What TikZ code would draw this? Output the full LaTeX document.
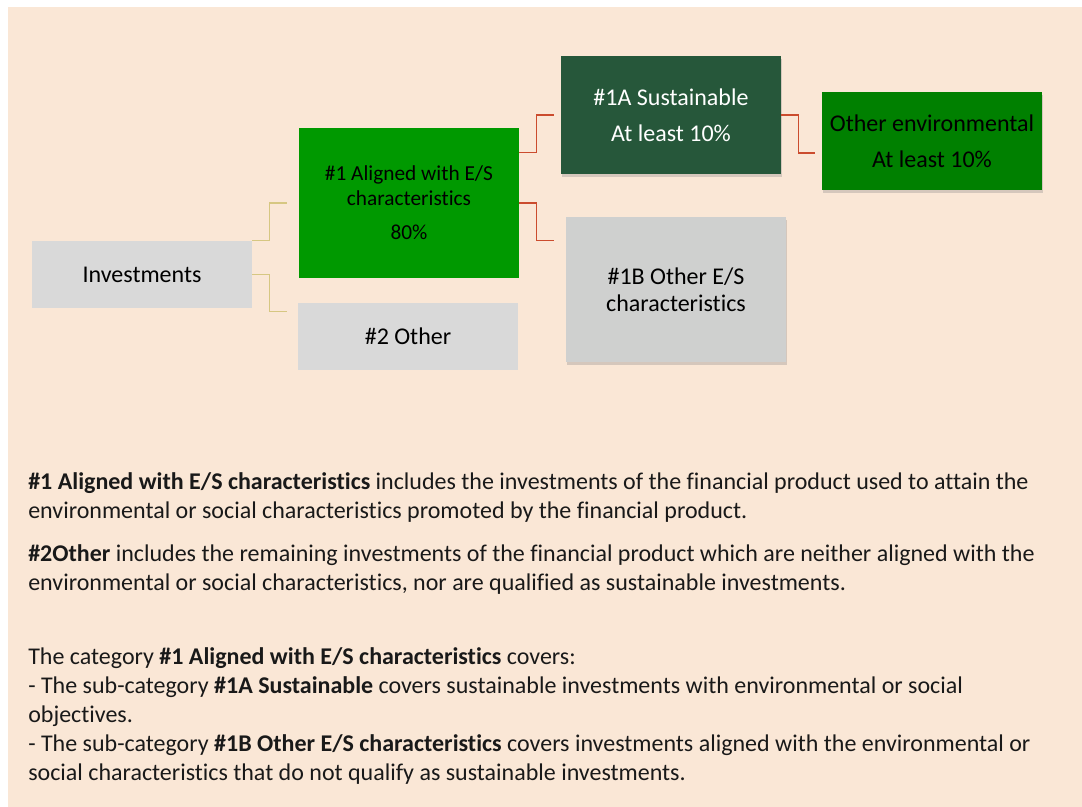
\documentclass[tikz,border=0pt]{standalone}
\usepackage{fontspec}
\setmainfont{Carlito}[Ligatures=NoCommon]
\usetikzlibrary{calc,shadows}

\definecolor{bgsand}{RGB}{250,231,214}
\definecolor{boxgrey}{RGB}{217,217,217}
\definecolor{subgrey}{RGB}{207,208,207}
\definecolor{alignedgreen}{RGB}{0,153,0}
\definecolor{sustgreen}{RGB}{38,87,58}
\definecolor{envgreen}{RGB}{0,128,0}
\definecolor{linktan}{RGB}{214,199,130}
\definecolor{linkred}{RGB}{203,76,46}

\begin{document}
\begin{tikzpicture}[x=0.75pt,y=-0.75pt,
    box/.style={rectangle, inner sep=0pt, minimum width=165pt, align=center,
        font=\fontsize{18}{20.25}\selectfont},
    shadebox/.style={box, drop shadow={opacity=0.3, shadow xshift=0.75pt, shadow yshift=-2.25pt}},
    tanline/.style={draw=linktan, line width=1pt},
    redline/.style={draw=linkred, line width=1pt},
    para/.style={anchor=north west, inner sep=0pt, align=left, text=black!90,
        font=\fontsize{18}{21.75}\selectfont}]
    \useasboundingbox (0,0) rectangle (1082,807);
    \fill[bgsand] (8,7) rectangle (1082,807);

    \node[box, fill=boxgrey, minimum height=50.25pt] (inv) at (142,274.5) {Investments};
    \node[box, fill=alignedgreen, minimum height=112.5pt, font=\fontsize{16}{18.75}\selectfont] (al) at (409,203)
        {\#1 Aligned with E/S\\ characteristics\\[6.75pt] 80\%};
    \node[box, fill=boxgrey, minimum height=50.25pt] (oth) at (408,336.5) {\#2 Other};
    \node[shadebox, fill=sustgreen, text=white, minimum height=88.5pt] (sus) at (671,115)
        {\#1A Sustainable\\[6.75pt] At least 10\%};
    \node[shadebox, fill=envgreen, minimum height=73.5pt] (env) at (932,141)
        {Other environmental\\[6.75pt] At least 10\%};
    \node[shadebox, fill=subgrey, minimum height=108.75pt] (oes) at (676,289.5)
        {\#1B Other E/S\\ characteristics};

    \draw[tanline] (inv.north east) -- ++(17,0) |- ([xshift=-9pt]al.west);
    \draw[tanline] (inv.east) -- ++(17,0) |- ($(oth.north west)+(-11,9)$);
    \draw[redline] ($(al.north east)+(0,25)$) -- ++(17,0) |- ([xshift=-5.25pt]sus.west);
    \draw[redline] (al.east) -- ++(17,0) |- ($(oes.north west)+(-12,24)$);
    \draw[redline] (sus.east) -- ++(17,0) |- ($(env.west)+(-7,12)$);

    \node[para] (p1) at (28,472) {\textbf{\#1 Aligned with E/S characteristics} includes the investments of the financial product used to attain the\\
        environmental or social characteristics promoted by the financial product.};
    \node[para] (p2) at (28,544) {\textbf{\#2Other} includes the remaining investments of the financial product which are neither aligned with the\\
        environmental or social characteristics, nor are qualified as sustainable investments.};
    \node[para] (p3) at (28,647) {The category \textbf{\#1 Aligned with E/S characteristics} covers:\\
        - The sub-category \textbf{\#1A Sustainable} covers sustainable investments with environmental or social\\
        objectives.\\
        - The sub-category \textbf{\#1B Other E/S characteristics} covers investments aligned with the environmental or\\
        social characteristics that do not qualify as sustainable investments.};
\end{tikzpicture}
\end{document}
